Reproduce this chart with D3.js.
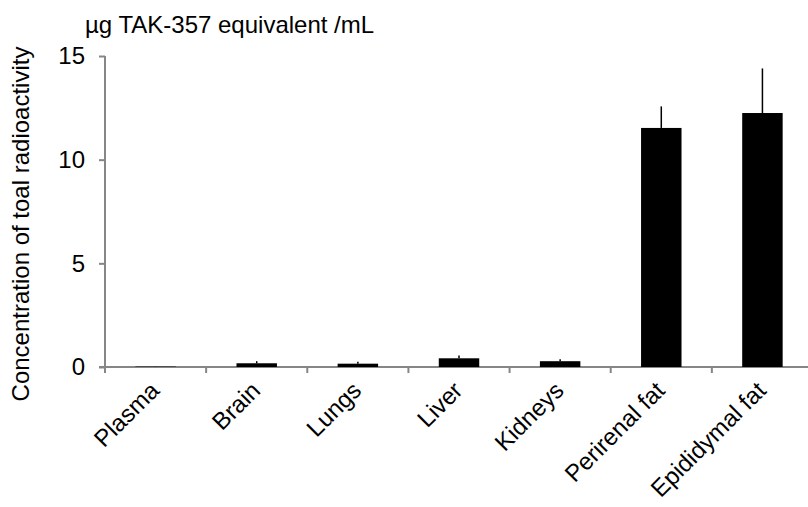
<!DOCTYPE html>
<html>
<head>
<meta charset="utf-8">
<script src="https://cdn.jsdelivr.net/npm/d3@7"></script>
<style>
    body { margin: 0; background: #fff; }
    svg text { font-family: "Liberation Sans", Arial, sans-serif; fill: #000; }
</style>
</head>
<body>
<div id="graphContainer"></div>
<script>
"use strict";
// values
const tissues = ["Plasma", "Brain", "Lungs", "Liver", "Kidneys", "Perirenal fat", "Epididymal fat"]
const means = [0.02, 0.18, 0.16, 0.42, 0.28, 11.53, 12.25]
const sds = [0.01, 0.10, 0.09, 0.13, 0.09, 1.04, 2.15]
const yTicks = [0, 5, 10, 15]

const measurements = { width: 808, height: 507 }
const plot = { left: 105, right: 813, top: 56, bottom: 367 }
const fontSize = "24px"

const svg = d3.select("#graphContainer").append("svg")
    .attr("width", measurements.width)
    .attr("height", measurements.height)

// band scale: bar is 40% of a category slot (Excel gap 150%)
const x = d3.scaleBand()
    .domain(tissues)
    .range([plot.left, plot.right])
    .paddingInner(0.6)
    .paddingOuter(0.3)
const step = x.step()

const y = d3.scaleLinear()
    .domain([0, 15])
    .range([plot.bottom, plot.top])

const axisColor = "#868686"

// y axis
const yAxis = svg.append("g")
    .attr("transform", "translate(" + plot.left + ",0)")
    .call(d3.axisLeft(y).tickValues(yTicks).tickSize(6).tickPadding(14))
yAxis.select(".domain").attr("stroke", axisColor).attr("stroke-width", 2)
    .attr("d", "M0," + y(15) + "V" + y(0))
yAxis.selectAll(".tick line").attr("stroke", axisColor).attr("stroke-width", 2)
yAxis.selectAll(".tick text")
    .style("font-size", fontSize)
    .style("font-family", "'Liberation Sans', Arial, sans-serif")

// x axis line and boundary ticks
const xAxis = svg.append("g")
xAxis.append("line")
    .attr("x1", plot.left - 6).attr("x2", plot.right)
    .attr("y1", y(0)).attr("y2", y(0))
    .attr("stroke", axisColor).attr("stroke-width", 2)
d3.range(tissues.length + 1).forEach(i => {
    const bx = plot.left + i * step
    xAxis.append("line")
        .attr("x1", bx).attr("x2", bx)
        .attr("y1", y(0)).attr("y2", y(0) + 6)
        .attr("stroke", axisColor).attr("stroke-width", 2)
})

// category labels, rotated
tissues.forEach(t => {
    const cx = x(t) + x.bandwidth() / 2
    svg.append("text")
        .attr("transform", "translate(" + (cx + 5) + "," + (y(0) + 25) + ") rotate(-45)")
        .style("text-anchor", "end")
        .style("font-size", fontSize)
        .text(t)
})

// bars
svg.selectAll(".bar")
    .data(tissues)
    .enter()
    .append("rect")
    .attr("class", "bar")
    .attr("x", d => x(d))
    .attr("width", x.bandwidth())
    .attr("y", (d, i) => y(means[i]))
    .attr("height", (d, i) => y(0) - y(means[i]))
    .attr("fill", "#000")

// upper error bars only
svg.selectAll(".err")
    .data(tissues)
    .enter()
    .append("line")
    .attr("class", "err")
    .attr("x1", d => x(d) + x.bandwidth() / 2)
    .attr("x2", d => x(d) + x.bandwidth() / 2)
    .attr("y1", (d, i) => y(means[i]))
    .attr("y2", (d, i) => y(means[i] + sds[i]))
    .attr("stroke", "#000")
    .attr("stroke-width", 1.5)

// unit title
svg.append("text")
    .attr("x", 85)
    .attr("y", 33)
    .style("font-size", fontSize)
    .text("\u00b5g TAK-357 equivalent /mL")

// y axis label
svg.append("text")
    .attr("transform", "translate(29," + 224 + ") rotate(-90)")
    .style("text-anchor", "middle")
    .style("font-size", fontSize)
    .text("Concentration of toal radioactivity")
</script>
</body>
</html>
